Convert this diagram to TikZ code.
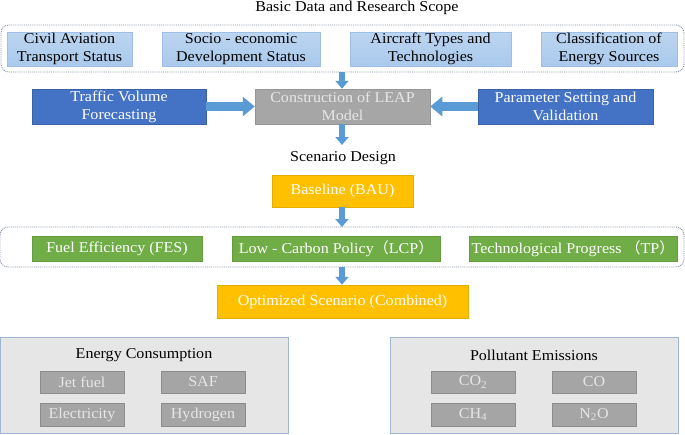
\documentclass[tikz,border=0pt]{standalone}
\usepackage{fontspec}
\setmainfont[FakeStretch=1.07]{Liberation Serif}
\newfontfamily\cjk{Noto Sans CJK SC}
\usetikzlibrary{arrows.meta}
\definecolor{lblue}{HTML}{A9C9EC}
\definecolor{lbluetop}{HTML}{BCD5F0}
\definecolor{lbluebd}{HTML}{9DBFE6}
\definecolor{dblue}{HTML}{4472C4}
\definecolor{arrblue}{HTML}{5B9BD5}
\definecolor{leapgray}{HTML}{A6A6A6}
\definecolor{orng}{HTML}{FFC000}
\definecolor{grn}{HTML}{70AD47}
\definecolor{panel}{HTML}{E7E6E6}
\definecolor{panelbd}{HTML}{9FB6D4}
\definecolor{itemgray}{HTML}{A5A5A5}
\definecolor{itembd}{HTML}{8C8C8C}
\definecolor{dotbd}{HTML}{7F8EA3}
\tikzset{
  base/.style={font=\fontsize{15}{18}\selectfont, align=center, inner sep=0pt},
  lbox/.style={base, top color=lbluetop, bottom color=lblue, draw=lbluebd, line width=0.6pt, text=black},
  dbox/.style={base, fill=dblue, draw=dblue!85!black, line width=0.5pt, text=white},
  gbox/.style={base, fill=leapgray, draw=leapgray!90!black, line width=0.5pt, text=panel},
  obox/.style={base, fill=orng, draw=orng!90!black, line width=0.5pt, text=white},
  grbox/.style={base, fill=grn, draw=grn!90!black, line width=0.5pt, text=white},
  panelbox/.style={fill=panel, draw=panelbd, line width=1pt},
  itembox/.style={base, fill=itemgray, draw=itembd, line width=0.6pt, text=panel, minimum width=84pt},
  dotbox/.style={draw=dotbd, densely dotted, line width=0.9pt, rounded corners=8pt},
  downarr/.style={draw=arrblue, line width=6pt, -{Triangle[width=13pt,length=8pt]}},
  sidearr/.style={draw=arrblue, line width=9pt, -{Triangle[width=19pt,length=12pt]}},
  plain/.style={base, text=black}
}
\begin{document}
\begin{tikzpicture}[x=1pt,y=-1pt]
\useasboundingbox (0,0) rectangle (685,434);
% top section
\node[plain] (title) at (357,8) {Basic Data and Research Scope};
\draw[dotbox] (1,25) rectangle (684,72);
\coordinate (topbot) at (342,72);
\node[lbox, minimum width=125pt, minimum height=34pt] (civ) at (69.5,49) {Civil Aviation\\Transport Status};
\node[lbox, minimum width=158pt, minimum height=34pt] (soc) at (241,49) {Socio - economic\\Development Status};
\node[lbox, minimum width=161pt, minimum height=34pt] (air) at (430.5,49) {Aircraft Types and\\Technologies};
\node[lbox, minimum width=136pt, minimum height=34pt] (cls) at (609,49) {Classification of\\Energy Sources};
% second row
\node[dbox, minimum width=174pt, minimum height=35pt] (traf) at (119,106.5) {Traffic Volume\\Forecasting};
\node[gbox, minimum width=175pt, minimum height=35pt] (leap) at (342.5,106.5) {Construction of LEAP\\Model};
\node[dbox, minimum width=175pt, minimum height=35pt] (param) at (565.5,106.5) {Parameter Setting and\\Validation};
\draw[downarr] (topbot) -- (leap.north -| topbot);
\draw[sidearr] (traf.east) -- (leap.west);
\draw[sidearr] (param.west) -- (leap.east);
\coordinate (leapend) at (342,145);
\draw[downarr] (leap.south -| leapend) -- (leapend);
% scenario
\node[plain] (scen) at (343,158) {Scenario Design};
\node[obox, minimum width=141pt, minimum height=32pt] (bau) at (342.5,191) {Baseline (BAU)};
\draw[dotbox] (0,227) rectangle (684,267);
\coordinate (sctop) at (342,227);
\coordinate (scbot) at (342,267);
\draw[downarr] (bau.south -| sctop) -- (sctop);
\node[grbox, minimum width=170pt, minimum height=25pt] (fes) at (117,248.5) {Fuel Efficiency (FES)};
\node[grbox, minimum width=208pt, minimum height=25pt] (lcp) at (336,248.5) {Low - Carbon Policy{\cjk （}LCP{\cjk ）}};
\node[grbox, minimum width=208pt, minimum height=25pt] (tp) at (573,248.5) {Technological Progress {\cjk （}TP{\cjk ）}};
\node[obox, minimum width=251pt, minimum height=33pt] (opt) at (342.5,301.5) {Optimized Scenario (Combined)};
\draw[downarr] (scbot) -- (opt.north -| scbot);
% bottom panels
\draw[panelbox] (0,337) rectangle (288,433);
\node[plain] (ect) at (144,355) {Energy Consumption};
\node[itembox, minimum height=22pt] (jet) at (82,382) {Jet fuel};
\node[itembox, minimum height=22pt] (saf) at (203,382) {SAF};
\node[itembox, minimum height=23pt] (ele) at (82,414.5) {Electricity};
\node[itembox, minimum height=23pt] (hyd) at (203,414.5) {Hydrogen};
\draw[panelbox] (390,337) rectangle (678,433);
\node[plain] (pet) at (534,355) {Pollutant Emissions};
\node[itembox, minimum height=22pt] (co2) at (473,382) {CO\textsubscript{2}};
\node[itembox, minimum height=22pt] (co) at (594,382) {CO};
\node[itembox, minimum height=23pt] (ch4) at (473,414.5) {CH\textsubscript{4}};
\node[itembox, minimum height=23pt] (n2o) at (594,414.5) {N\textsubscript{2}O};
\end{tikzpicture}
\end{document}
